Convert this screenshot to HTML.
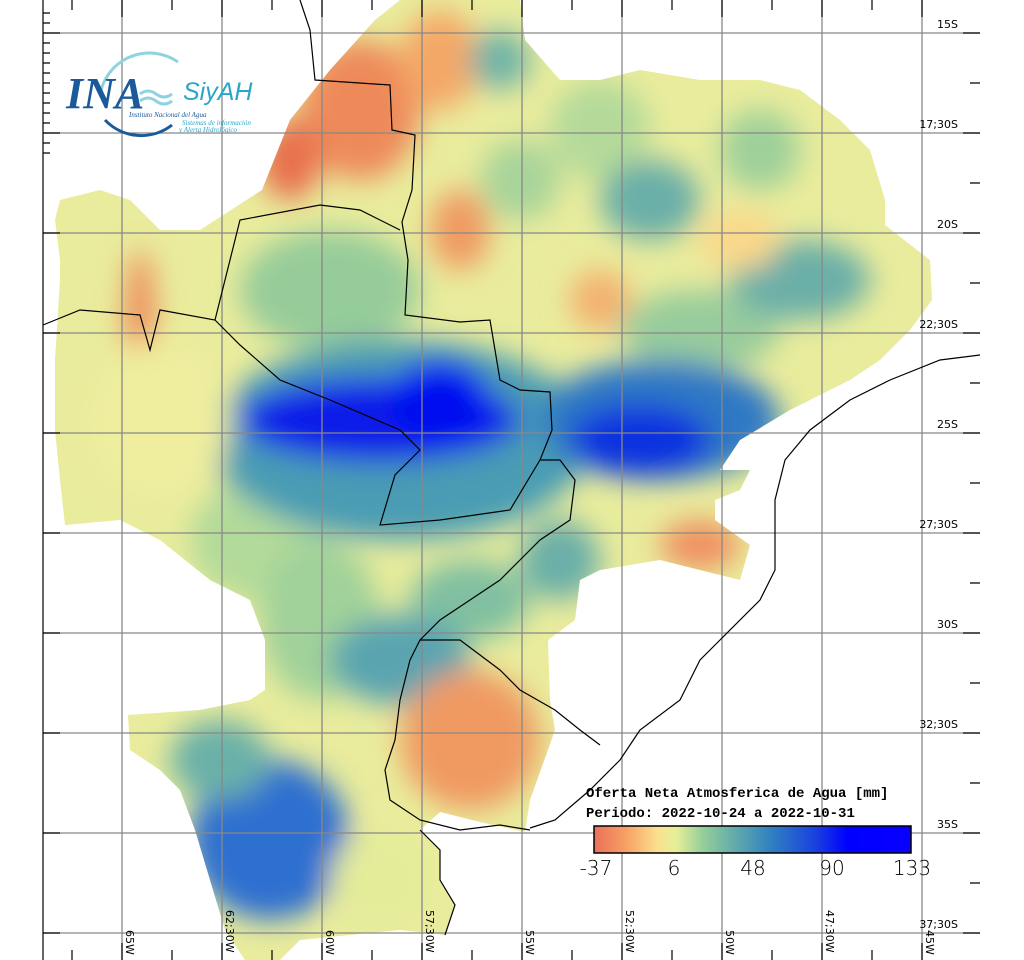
<!DOCTYPE html>
<html><head><meta charset="utf-8"><style>
html,body{margin:0;padding:0;background:#fff}
svg{display:block}
.lab{font-family:"DejaVu Sans","Liberation Sans",sans-serif;font-size:11px;fill:#000}
.ttl{font-family:"Liberation Mono",monospace;font-size:14px;font-weight:bold;fill:#000}
.cb{font-family:"DejaVu Sans","Liberation Sans",sans-serif;font-size:20px;fill:#000;font-weight:300}
</style></head><body>
<svg width="1024" height="960" viewBox="0 0 1024 960" xmlns="http://www.w3.org/2000/svg">
<defs>
<clipPath id="dom"><path d="M262,190 L290,120 L330,70 L375,20 L400,0 L520,0 L525,40 L560,80 L600,80 L640,70 L700,80 L760,80 L800,90 L840,120 L870,150 L885,200 L885,225 L930,260 L932,300 L910,330 L880,360 L850,380 L790,410 L740,440 L720,470 L750,470 L740,490 L715,500 L715,520 L750,545 L740,580 L700,570 L660,560 L600,570 L580,580 L575,620 L548,640 L550,700 L555,730 L530,800 L525,832 L480,822 L440,812 L420,830 L440,850 L440,880 L455,905 L445,935 L400,930 L300,940 L280,960 L245,960 L225,930 L210,880 L195,830 L180,790 L160,770 L130,750 L128,715 L200,710 L250,700 L265,690 L265,640 L250,600 L210,580 L160,540 L120,520 L65,525 L60,480 L55,430 L55,360 L60,280 L60,260 L55,220 L60,200 L100,190 L130,200 L160,230 L200,230 Z"/></clipPath>
<filter id="bl" x="-20%" y="-20%" width="140%" height="140%"><feGaussianBlur stdDeviation="14"/></filter>
<linearGradient id="cbg" x1="0" x2="1">
<stop offset="0" stop-color="#e8705a"/><stop offset="0.1" stop-color="#f7a065"/><stop offset="0.2" stop-color="#fbe08e"/><stop offset="0.26" stop-color="#e4ef98"/><stop offset="0.34" stop-color="#98d09a"/><stop offset="0.43" stop-color="#68b0a8"/><stop offset="0.56" stop-color="#2f80c0"/><stop offset="0.7" stop-color="#1a40e0"/><stop offset="0.8" stop-color="#0000ff"/><stop offset="1" stop-color="#0800ff"/>
</linearGradient>
</defs>
<g clip-path="url(#dom)">
<rect x="0" y="0" width="1024" height="960" fill="#e9ec9c"/>
<g filter="url(#bl)">
<ellipse cx="260" cy="540" rx="70" ry="60" fill="#b2da9a"/>
<ellipse cx="320" cy="620" rx="60" ry="80" fill="#a0d29a"/>
<ellipse cx="470" cy="600" rx="60" ry="40" fill="#80c0a0"/>
<ellipse cx="560" cy="560" rx="40" ry="40" fill="#6aafa8"/>
<ellipse cx="600" cy="130" rx="50" ry="50" fill="#b4da9a"/>
<ellipse cx="700" cy="330" rx="80" ry="40" fill="#98cc9c"/>
<ellipse cx="360" cy="110" rx="60" ry="70" fill="#ee8a5a"/>
<ellipse cx="290" cy="160" rx="30" ry="40" fill="#e8704e"/>
<ellipse cx="440" cy="60" rx="40" ry="50" fill="#f4a868"/>
<ellipse cx="460" cy="230" rx="30" ry="40" fill="#f09a62"/>
<ellipse cx="500" cy="60" rx="30" ry="30" fill="#70b4a8"/>
<ellipse cx="140" cy="320" rx="15" ry="70" fill="#ef8a5a"/>
<ellipse cx="600" cy="300" rx="30" ry="30" fill="#f4b070"/>
<ellipse cx="520" cy="180" rx="40" ry="40" fill="#a8d49a"/>
<ellipse cx="650" cy="200" rx="50" ry="40" fill="#6aafa8"/>
<ellipse cx="760" cy="150" rx="40" ry="40" fill="#9ed09a"/>
<ellipse cx="800" cy="280" rx="70" ry="40" fill="#6aafa8"/>
<ellipse cx="740" cy="240" rx="40" ry="30" fill="#fbd88a"/>
<ellipse cx="330" cy="290" rx="90" ry="60" fill="#96cc9a"/>
<ellipse cx="400" cy="440" rx="190" ry="100" fill="#4a9cb4"/>
<ellipse cx="660" cy="420" rx="120" ry="60" fill="#2d78c4"/>
<ellipse cx="380" cy="420" rx="140" ry="42" fill="#0a1ee8"/>
<ellipse cx="440" cy="400" rx="50" ry="40" fill="#0010f0"/>
<ellipse cx="640" cy="440" rx="70" ry="35" fill="#1030e0"/>
<ellipse cx="700" cy="545" rx="40" ry="25" fill="#f09060"/>
<ellipse cx="400" cy="660" rx="70" ry="45" fill="#5aa4b0"/>
<ellipse cx="470" cy="740" rx="70" ry="70" fill="#f09a62"/>
<ellipse cx="270" cy="840" rx="80" ry="80" fill="#2f70d0"/>
<ellipse cx="220" cy="760" rx="50" ry="40" fill="#6ab0a8"/>
<ellipse cx="380" cy="880" rx="50" ry="50" fill="#e4ec9a"/>
<ellipse cx="160" cy="420" rx="70" ry="80" fill="#eeee9e"/>
</g>
</g>
<g stroke="#888" stroke-width="1.3" fill="none">
<path d="M43,33H980M43,133H980M43,233H980M43,333H980M43,433H980M43,533H980M43,633H980M43,733H980M43,833H980M43,933H980"/>
<path d="M122,0V960M222,0V960M322,0V960M422,0V960M522,0V960M622,0V960M722,0V960M822,0V960M922,0V960"/>
</g>
<g stroke="#000" stroke-width="1.2" fill="none">
<path d="M300,0 L310,30 L315,80 L390,85 L392,130 L415,135 L412,190 L402,222 L408,260 L405,315 L460,322 L490,320 L500,380 L520,390 L550,392 L552,430 L540,460 L560,460 L575,480 L570,520 L540,540 L520,560 L500,580 L470,600 L440,620 L420,640 L410,660 L400,700 L395,740 L385,770 L390,800 L420,820 L460,830 L500,825 L530,830"/>
<path d="M420,640 L460,640 L500,670 L520,690 L555,710 L580,730 L600,745"/>
<path d="M43,325 L80,310 L140,315 L150,350 L160,310 L215,320 L240,345 L280,380 L330,400 L400,430 L420,450 L395,475 L380,525 L440,520 L510,510 L540,460"/>
<path d="M215,320 L240,220 L320,205 L360,210 L400,230"/>
<path d="M980,355 L940,360 L890,380 L850,400 L810,430 L785,460 L775,500 L775,570 L760,600 L720,640 L700,660 L680,700 L640,730 L620,760 L590,790 L555,820 L530,828"/>
<path d="M420,830 L440,850 L440,880 L455,905 L445,935"/>
</g>
<g stroke="#000" stroke-width="1.2">
<path d="M43,0V960"/>
<path d="M43,33h17M43,133h17M43,233h17M43,333h17M43,433h17M43,533h17M43,633h17M43,733h17M43,833h17M43,933h17"/>
<path d="M43,13h7M43,23h7M43,43h7M43,53h7M43,63h7M43,73h7M43,83h7M43,93h7M43,103h7M43,113h7M43,123h7M43,143h7M43,153h7"/>
<path d="M980,33h-17M980,133h-17M980,233h-17M980,333h-17M980,433h-17M980,533h-17M980,633h-17M980,733h-17M980,833h-17M980,933h-17M980,83h-10M980,183h-10M980,283h-10M980,383h-10M980,483h-10M980,583h-10M980,683h-10M980,783h-10M980,883h-10"/>
<path d="M122,0v17M222,0v17M322,0v17M422,0v17M522,0v17M622,0v17M722,0v17M822,0v17M922,0v17M72,0v10M172,0v10M272,0v10M372,0v10M472,0v10M572,0v10M672,0v10M772,0v10M872,0v10"/>
<path d="M122,960v-17M222,960v-17M322,960v-17M422,960v-17M522,960v-17M622,960v-17M722,960v-17M822,960v-17M922,960v-17M72,960v-10M172,960v-10M272,960v-10M372,960v-10M472,960v-10M572,960v-10M672,960v-10M772,960v-10M872,960v-10"/>
</g>
<g class="lab" text-anchor="end">
<text x="958" y="28">15S</text><text x="958" y="128">17;30S</text><text x="958" y="228">20S</text><text x="958" y="328">22;30S</text><text x="958" y="428">25S</text><text x="958" y="528">27;30S</text><text x="958" y="628">30S</text><text x="958" y="728">32;30S</text><text x="958" y="828">35S</text><text x="958" y="928">37;30S</text>
</g>
<g class="lab">
<text transform="translate(126,930) rotate(90)">65W</text>
<text transform="translate(226,910) rotate(90)">62;30W</text>
<text transform="translate(326,930) rotate(90)">60W</text>
<text transform="translate(426,910) rotate(90)">57;30W</text>
<text transform="translate(526,930) rotate(90)">55W</text>
<text transform="translate(626,910) rotate(90)">52;30W</text>
<text transform="translate(726,930) rotate(90)">50W</text>
<text transform="translate(826,910) rotate(90)">47;30W</text>
<text transform="translate(926,930) rotate(90)">45W</text>
</g>
<path d="M100,95 A50,50 0 0 1 178,62" stroke="#8fd3e0" stroke-width="3" fill="none"/>
<path d="M105,120 A50,50 0 0 0 172,125" stroke="#1a5a9a" stroke-width="3" fill="none"/>
<text x="66" y="108" font-family="Liberation Serif,serif" font-style="italic" font-weight="bold" font-size="44" fill="#1a5a9a">INA</text>
<path d="M140,94 q8,-6 16,0 t16,0 M140,101 q8,-6 16,0 t16,0" stroke="#8fd3e0" stroke-width="3" fill="none"/>
<text x="183" y="100" font-family="Liberation Sans,sans-serif" font-style="italic" font-size="25" fill="#29a7c8">SiyAH</text>
<text x="129" y="117" font-family="Liberation Serif,serif" font-style="italic" font-size="7" fill="#1a5a9a">Instituto Nacional del Agua</text>
<text x="182" y="125" font-family="Liberation Serif,serif" font-style="italic" font-size="7" fill="#29a7c8">Sistemas de información</text>
<text x="179" y="132" font-family="Liberation Serif,serif" font-style="italic" font-size="7" fill="#29a7c8">y Alerta Hidrológico</text>
<text class="ttl" x="586" y="797">Oferta Neta Atmosferica de Agua [mm]</text>
<text class="ttl" x="586" y="817">Periodo: 2022-10-24 a 2022-10-31</text>
<rect x="594" y="826" width="317" height="27" fill="url(#cbg)" stroke="#000" stroke-width="1.5"/>
<g class="cb" text-anchor="middle">
<text x="596" y="875">-37</text><text x="674" y="875">6</text><text x="753" y="875">48</text><text x="832" y="875">90</text><text x="912" y="875">133</text>
</g>
</svg>
</body></html>
